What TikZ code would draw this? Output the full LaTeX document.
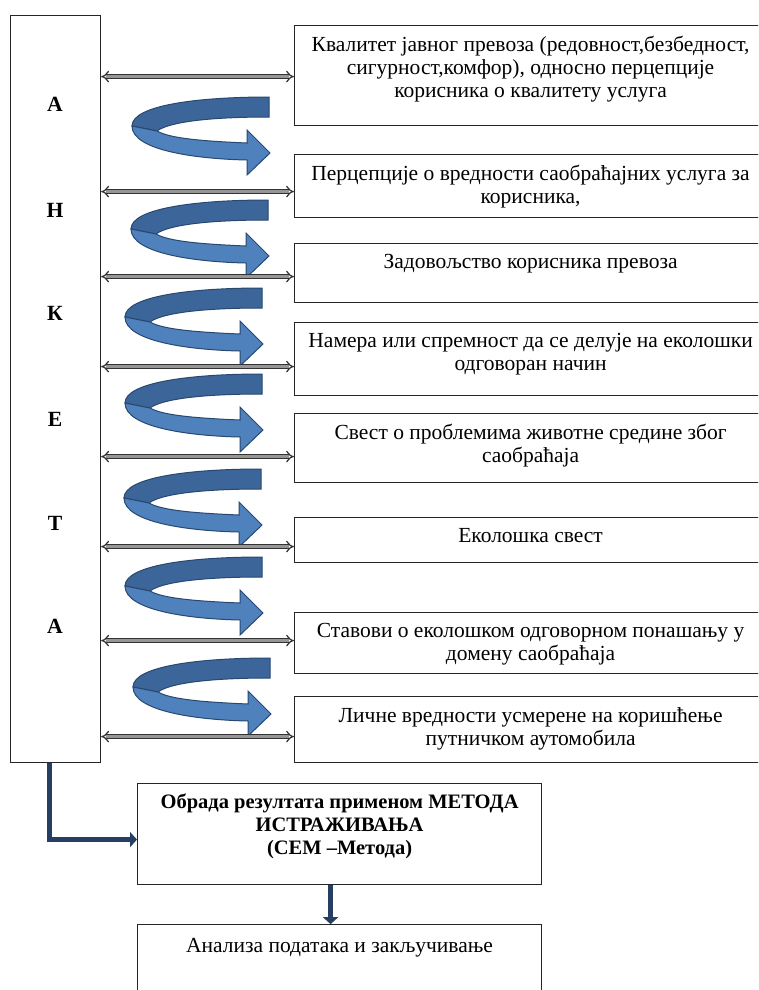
\documentclass[tikz,border=0pt]{standalone}
\usepackage{fontspec}
\setmainfont{Liberation Serif}
\usetikzlibrary{positioning,arrows.meta}
\definecolor{frontblue}{RGB}{79,129,189}
\definecolor{backblue}{RGB}{60,102,153}
\definecolor{ribedge}{RGB}{40,72,112}
\definecolor{pathblue}{RGB}{38,62,98}
\definecolor{linkgray}{RGB}{150,150,150}

% curved ribbon arrow, (#1,#2) = top right corner of its flat end
\newcommand{\petlja}[2]{%
  \begin{scope}[shift={(#1,#2)}]
    \filldraw[fill=backblue, draw=ribedge, line width=0.6pt]
      (0,0) .. controls (-70,0) and (-137,8) .. (-137,29) -- (-112,34)
      .. controls (-100,25) and (-60,20) .. (0,20) -- cycle;
    \filldraw[fill=frontblue, draw=ribedge, line width=0.6pt]
      (-137,29) .. controls (-137,54) and (-70,62) .. (-22,63) -- (-22,78)
      -- (1,56) -- (-22,33) -- (-22,46) .. controls (-70,44) and (-100,41) .. (-112,34) -- cycle;
  \end{scope}}

\begin{document}
\begin{tikzpicture}[x=0.6pt, y=-0.6pt,
  fbox/.style={draw=black!85, line width=0.7pt, anchor=north west, inner sep=0pt},
  ftext/.style={anchor=north, align=center, yshift=-3.2pt, font=\fontsize{12.9pt}{13.8pt}\selectfont},
  slovo/.style={font=\fontsize{13pt}{14pt}\selectfont\bfseries},
  link/.style={draw=black!80, double=linkgray, double distance=1.6pt, line width=0.75pt, {Implies[length=1.5pt]}-{Implies[length=1.5pt]}},
  tok/.style={draw=pathblue, line width=3pt, -{Triangle[length=4.2pt, width=9pt]}}
]
\useasboundingbox (0,0) rectangle (758,990);
\clip (0,0) rectangle (758,990);

% left column
\node[fbox, minimum width=54pt, minimum height=448.2pt] (ank) at (10,15) {};
\node[slovo] (s1) at (55,104) {А};
\node[slovo] (s2) at (55,210) {Н};
\node[slovo] (s3) at (55,313) {К};
\node[slovo] (s4) at (55,419) {Е};
\node[slovo] (s5) at (55,523) {Т};
\node[slovo] (s6) at (55,626) {А};

% factor boxes
\node[fbox, minimum width=283.2pt, minimum height=60pt,
  label={[ftext]north:{Квалитет јавног превоза (редовност,безбедност,\\сигурност,комфор), односно перцепције\\корисника о квалитету услуга}}] (f1) at (294,25) {};
\node[fbox, minimum width=283.2pt, minimum height=37.8pt,
  label={[ftext]north:{Перцепције о вредности саобраћајних услуга за\\корисника,}}] (f2) at (294,154) {};
\node[fbox, minimum width=283.2pt, minimum height=35.4pt,
  label={[ftext]north:{Задовољство корисника превоза}}] (f3) at (294,243) {};
\node[fbox, minimum width=283.2pt, minimum height=43.8pt,
  label={[ftext]north:{Намера или спремност да се делује на еколошки\\одговоран начин}}] (f4) at (294,322) {};
\node[fbox, minimum width=283.2pt, minimum height=41.4pt,
  label={[ftext]north:{Свест о проблемима животне средине због\\саобраћаја}}] (f5) at (294,413) {};
\node[fbox, minimum width=283.2pt, minimum height=27pt,
  label={[ftext]north:{Еколошка свест}}] (f6) at (294,517) {};
\node[fbox, minimum width=283.2pt, minimum height=36.6pt,
  label={[ftext]north:{Ставови о еколошком одговорном понашању у\\домену саобраћаја}}] (f7) at (294,612) {};
\node[fbox, minimum width=283.2pt, minimum height=39.6pt,
  label={[ftext]north:{Личне вредности усмерене на коришћење\\путничком аутомобила}}] (f8) at (294,696) {};

% bottom boxes
\node[fbox, minimum width=242.4pt, minimum height=60.6pt,
  label={[ftext, font=\fontsize{12.3pt}{13.8pt}\selectfont\bfseries]north:{Обрада резултата применом МЕТОДА\\ИСТРАЖИВАЊА\\(СЕМ –Метода)}}] (oa) at (137,783) {};
\node[fbox, minimum width=242.4pt, minimum height=60pt, below=23.4pt of oa,
  label={[ftext, yshift=-1.5pt]north:{Анализа података и закључивање}}] (ob) {};

% ribbons
\petlja{269}{97}
\petlja{268}{200}
\petlja{262}{288}
\petlja{262}{374}
\petlja{261}{469}
\petlja{262}{557}
\petlja{270}{658}

% connectors
\draw[link] ([yshift=-0.6pt]f1.west -| ank.east) -- ([yshift=-0.6pt]f1.west);
\draw[link] ([yshift=-3.3pt]f2.west -| ank.east) -- ([yshift=-3.3pt]f2.west);
\draw[link] ([yshift=-2.1pt]f3.west -| ank.east) -- ([yshift=-2.1pt]f3.west);
\draw[link] ([yshift=-4.5pt]f4.west -| ank.east) -- ([yshift=-4.5pt]f4.west);
\draw[link] ([yshift=-5.1pt]f5.west -| ank.east) -- ([yshift=-5.1pt]f5.west);
\draw[link] ([yshift=-3.9pt]f6.west -| ank.east) -- ([yshift=-3.9pt]f6.west);
\draw[link] ([yshift=1.5pt]f7.west -| ank.east) -- ([yshift=1.5pt]f7.west);
\draw[link] ([yshift=-4.2pt]f8.west -| ank.east) -- ([yshift=-4.2pt]f8.west);

% flow to method
\draw[tok] ([xshift=-3.6pt]ank.south) |- ([yshift=-3.3pt]oa.west);
\draw[tok] ([xshift=-5.4pt]oa.south) -- ([xshift=-5.4pt]ob.north);
\end{tikzpicture}
\end{document}
